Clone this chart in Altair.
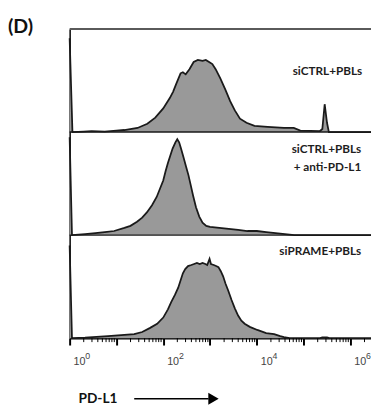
import altair as alt
import pandas as pd
import numpy as np

# ---- data (x = log10 of PD-L1 intensity, y = % of panel height) ----
panel_names = ["siCTRL+PBLs", "siCTRL+PBLs + anti-PD-L1", "siPRAME+PBLs"]

p1_log = [0.0, 0.06, 0.3, 0.47, 0.75, 1.0, 1.17, 1.45, 1.66, 1.83, 2.0, 2.14, 2.21, 2.28, 2.37,
          2.42, 2.48, 2.56, 2.65, 2.74, 2.84, 2.91, 2.98, 3.05, 3.12, 3.22, 3.33, 3.43, 3.53,
          3.64, 3.78, 3.95, 4.23, 4.58, 4.79, 4.93, 5.35, 5.4, 5.45, 5.5, 5.54, 6.44]
p1_pct = [91, 0, 0.5, 1, 0.5, 1.5, 2, 4, 8, 14, 23, 33, 39, 47, 57,
          58, 56, 61, 68, 70, 69, 70, 68, 66, 61, 52, 41, 30, 21,
          13, 9, 6, 5, 4, 4, 1.5, 1, 3, 27, 9, 0, 0]

p2_log = [0.0, 0.05, 0.33, 0.55, 0.75, 0.95, 1.17, 1.3, 1.44, 1.55, 1.65, 1.76, 1.86, 1.93,
          2.0, 2.05, 2.1, 2.15, 2.2, 2.26, 2.3, 2.34, 2.38, 2.43, 2.49, 2.54, 2.59, 2.64,
          2.7, 2.77, 2.84, 2.92, 3.0, 3.2, 3.4, 3.6, 3.8, 4.0, 4.2, 4.4, 4.6, 4.8, 6.44]
p2_pct = [95, 0, 1, 2, 3, 4, 7, 9, 13, 17, 22, 29, 37, 45,
          53, 62, 70, 77, 84, 90, 93, 90, 84, 76, 66, 58, 48, 38,
          27, 18, 12, 9, 8, 7, 6, 5, 4, 4, 3, 2, 1, 0, 0]

p3_log = [0.0, 0.05, 0.33, 0.82, 1.1, 1.38, 1.55, 1.72, 1.87, 2.0, 2.1, 2.17, 2.25, 2.32,
          2.37, 2.42, 2.47, 2.53, 2.6, 2.66, 2.72, 2.78, 2.84, 2.9, 2.94, 2.99, 3.02, 3.08,
          3.13, 3.18, 3.23, 3.28, 3.33, 3.39, 3.46, 3.53, 3.6, 3.67, 3.74, 3.85, 4.01, 4.2,
          4.37, 4.5, 4.58, 4.7, 5.35, 5.4, 5.5, 5.55, 6.44]
p3_pct = [90, 0, 0.5, 2, 3, 4, 6, 10, 14, 20, 28, 35, 42, 49,
          56, 63, 67, 70, 71, 72, 73, 72, 73, 72, 71, 77, 72, 71,
          70, 69, 65, 60, 53, 46, 37, 29, 22, 17, 14, 11, 8, 5,
          4, 2, 1, 0, 0, 0.8, 0.8, 0, 0]

major_ticks = [0, 1, 2, 3, 4, 5, 6]
label_exps = [0, 2, 4, 6]
label_sup = ["0", "2", "4", "6"]

# ---- layout ----
W, H = 308, 316
XMAX = 6.44

rows = []
for i, (xs_, ys_) in enumerate([(p1_log, p1_pct), (p2_log, p2_pct), (p3_log, p3_pct)]):
    off = (2 - i) * 100
    for x, y in zip(xs_, ys_):
        rows.append({"panel": panel_names[i], "lx": x, "base": off, "top": off + y})
df = pd.DataFrame(rows)

minor = [d + np.log10(k) for d in range(0, 7) for k in range(2, 10) if d + np.log10(k) <= XMAX]
df_minor = pd.DataFrame({"lx": minor})
df_lab = pd.DataFrame({"e": label_exps, "s": label_sup})
df_sep = pd.DataFrame({"y": [100, 200]})
df_top = pd.DataFrame({"y": [300]})
one = pd.DataFrame({"a": [0]})

xscale = alt.Scale(domain=[0, XMAX], nice=False, zero=False)
yscale = alt.Scale(domain=[0, 300], nice=False, zero=False)
xaxis = alt.Axis(values=major_ticks, tickSize=7, tickWidth=2, tickColor="black",
                 domainColor="black", domainWidth=1.5, labels=False, title=None, grid=False)
yaxis = alt.Axis(domainColor="black", domainWidth=1.5, ticks=False, labels=False,
                 title=None, grid=False)

areas = alt.Chart(df).mark_area(
    color="#999999", opacity=1,
    line={"color": "#1a1a1a", "strokeWidth": 1.8},
).encode(
    x=alt.X("lx:Q", scale=xscale, axis=xaxis),
    y=alt.Y("top:Q", scale=yscale, axis=yaxis),
    y2="base:Q",
    detail="panel:N",
)

seps = alt.Chart(df_sep).mark_rule(color="#1a1a1a", strokeWidth=1.5).encode(
    y=alt.Y("y:Q", scale=yscale, axis=yaxis), x=alt.value(0), x2=alt.value(W)
)
topb = alt.Chart(df_top).mark_rule(color="#5a5a5a", strokeWidth=2).encode(
    y=alt.Y("y:Q", scale=yscale, axis=yaxis), x=alt.value(0), x2=alt.value(W)
)

minor_ticks = alt.Chart(df_minor).mark_rule(color="black", strokeWidth=1).encode(
    x=alt.X("lx:Q", scale=xscale, axis=xaxis), y=alt.value(H), y2=alt.value(H + 4)
)

tick10 = alt.Chart(df_lab).mark_text(
    align="left", baseline="alphabetic", dx=4, font="Liberation Sans", fontSize=11, color="#444444"
).encode(x=alt.X("e:Q", scale=xscale, axis=xaxis), y=alt.value(H + 27), text=alt.value("10"))
tickexp = alt.Chart(df_lab).mark_text(
    align="left", baseline="alphabetic", dx=16, font="Liberation Sans", fontSize=9, color="#444444"
).encode(x=alt.X("e:Q", scale=xscale, axis=xaxis), y=alt.value(H + 21), text="s:N")

lab_font = dict(font="Lato", fontWeight="bold", fontSize=12, color="#1e1e1e", align="right", baseline="middle")
t1 = alt.Chart(one).mark_text(**lab_font).encode(x=alt.value(299), y=alt.value(43), text=alt.value("siCTRL+PBLs"))
t2a = alt.Chart(one).mark_text(**lab_font).encode(x=alt.value(298), y=alt.value(123), text=alt.value("siCTRL+PBLs"))
t2b = alt.Chart(one).mark_text(**lab_font).encode(x=alt.value(298), y=alt.value(141), text=alt.value("+ anti-PD-L1"))
t3 = alt.Chart(one).mark_text(**lab_font).encode(x=alt.value(298), y=alt.value(227), text=alt.value("siPRAME+PBLs"))

tD = alt.Chart(one).mark_text(font="Lato", fontWeight="bold", fontSize=20, color="#111111",
                              align="left", baseline="middle").encode(
    x=alt.value(-63), y=alt.value(-2), text=alt.value("(D)"))

tPD = alt.Chart(one).mark_text(font="Lato", fontWeight="bold", fontSize=14, color="#111111",
                               align="left", baseline="middle").encode(
    x=alt.value(9), y=alt.value(378), text=alt.value("PD-L1"))
arrow_line = alt.Chart(one).mark_rule(color="black", strokeWidth=1.5).encode(
    x=alt.value(66), x2=alt.value(142), y=alt.value(378))
arrow_head = alt.Chart(one).mark_point(shape="triangle-right", filled=True, size=150,
                                       color="black", opacity=1).encode(
    x=alt.value(147), y=alt.value(378))

chart = alt.layer(
    areas, seps, topb, minor_ticks, tick10, tickexp, t1, t2a, t2b, t3, tD, tPD, arrow_line, arrow_head
).properties(
    width=W, height=H,
    padding={"left": 63, "top": 17, "right": 0, "bottom": 72},
    autosize=alt.AutoSizeParams(type="none"),
    background="white",
).configure_view(stroke=None)

chart.save("out.html", embed_options={"renderer": "svg", "actions": False})
